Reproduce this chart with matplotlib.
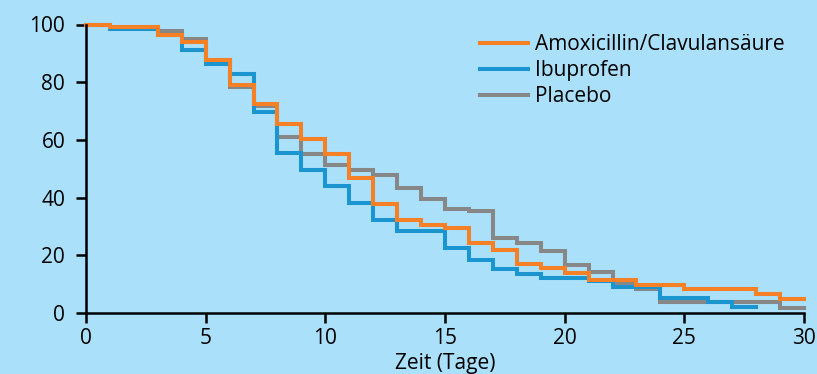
import numpy as np
import matplotlib.pyplot as plt

plt.rcParams['font.family'] = ['Open Sans', 'DejaVu Sans']

# share of patients still with symptoms (%), value holds from day i to i+1
amoxi = [100, 99.2, 99.2, 96.5, 93.8, 87.8, 79.0, 72.6, 65.6, 60.2,
         55.0, 46.8, 37.7, 32.1, 30.6, 29.4, 24.4, 21.9, 17.0, 15.6,
         14.0, 11.3, 11.3, 9.7, 9.7, 8.2, 8.2, 8.2, 6.7, 4.9]
ibu = [100, 98.5, 98.5, 96.5, 91.0, 86.2, 82.8, 69.7, 55.4, 49.7,
       44.1, 38.1, 32.3, 28.5, 28.5, 22.5, 18.2, 15.2, 13.5, 12.3,
       12.3, 11.0, 8.9, 8.9, 5.3, 5.3, 3.9, 2.1]
placebo = [100, 98.8, 98.8, 97.9, 95.0, 87.8, 78.2, 71.6, 60.9, 55.2,
           51.4, 49.6, 47.8, 43.5, 39.6, 36.1, 35.2, 26.0, 24.2, 21.5,
           16.8, 14.3, 10.0, 8.2, 3.9, 3.9, 3.9, 3.9, 3.8, 1.8]

labels = ['Amoxicillin/Clavulansäure', 'Ibuprofen', 'Placebo']
colors = ['#f58025', '#1a95d0', '#878787']
xticks = [0, 5, 10, 15, 20, 25, 30]
yticks = [0, 20, 40, 60, 80, 100]

bg = '#aae0fa'
fs = 15
fig = plt.figure(figsize=(8.17, 3.74), dpi=100, facecolor=bg)
ax = fig.add_axes([86 / 817, 1 - 313 / 374, 718 / 817, 288.5 / 374])
ax.set_facecolor(bg)


def steps(vals):
    x = np.arange(len(vals) + 1)
    y = list(vals) + [vals[-1]]
    return x, y


lines = {}
for name, vals, col, z in [(labels[2], placebo, colors[2], 2),
                           (labels[1], ibu, colors[1], 3),
                           (labels[0], amoxi, colors[0], 4)]:
    x, y = steps(vals)
    ln, = ax.step(x, y, where='post', color=col, lw=2.9, zorder=z,
                  clip_on=False, solid_joinstyle='miter')
    lines[name] = ln

ax.set_xlim(0, 30)
ax.set_ylim(0, 100)
ax.set_xticks(xticks)
ax.set_yticks(yticks)
for s in ['top', 'right']:
    ax.spines[s].set_visible(False)
for s in ['left', 'bottom']:
    ax.spines[s].set_linewidth(1.8)
    ax.spines[s].set_zorder(5)
ax.tick_params(width=1.8, length=7, labelsize=fs, color='black')
ax.tick_params(axis='y', pad=8)
ax.tick_params(axis='x', pad=4)
ax.set_xlabel('Zeit (Tage)', fontsize=fs, labelpad=3)

leg = ax.legend([lines[l] for l in labels], labels, frameon=False,
                fontsize=fs, loc='upper left',
                bbox_to_anchor=(480 / 817, 1 - 34 / 374),
                bbox_transform=fig.transFigure, borderpad=0,
                handlelength=2.3, handletextpad=0.33, labelspacing=0.25,
                borderaxespad=0)

fig.savefig('out.png', dpi=100, facecolor=bg)
